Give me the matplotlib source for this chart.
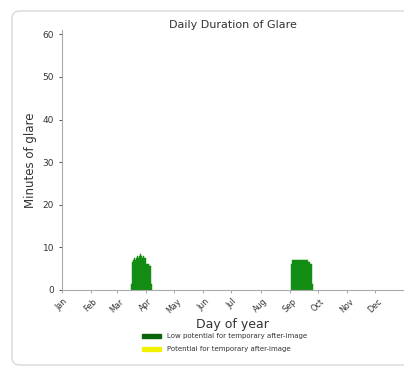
import matplotlib
matplotlib.use("Agg")
import matplotlib.pyplot as plt
from matplotlib.patches import FancyBboxPatch

# ── Data ──────────────────────────────────────────────────────────────────
month_labels = ["Jan", "Feb", "Mar", "Apr", "May", "Jun",
                "Jul", "Aug", "Sep", "Oct", "Nov", "Dec"]
month_starts = [0, 31, 59, 90, 120, 151, 181, 212, 243, 273, 304, 334]

spring_days = list(range(74, 97))
spring_low = [1.5, 6.5, 7, 7, 7.5, 7, 7.5, 8, 7.5, 8, 8.5, 8,
              7.5, 8, 7.5, 7.5, 6, 6, 6, 6, 5.5, 5.5, 1.5]

autumn_days = list(range(245, 268))
autumn_low = [6, 7, 7, 7, 7, 7, 7, 7, 7, 7, 7, 7,
              7, 7, 7, 7, 7, 7, 6.5, 6.5, 6, 6, 1.5]

# yellow series has no glare minutes in this result
autumn_high = [0] * len(autumn_days)

LOW_COLOR = "#138c13"
HIGH_COLOR = "#f2f200"
TEXT = "#333333"

fig = plt.figure(figsize=(4.04, 3.76), dpi=100)

# card outline
card = FancyBboxPatch((12 / 404, 11 / 376), 1.2, 354 / 376,
                      boxstyle="round,pad=0,rounding_size=0.02",
                      transform=fig.transFigure, facecolor="white",
                      edgecolor="#d9d9d9", linewidth=1.0, zorder=-10)
fig.add_artist(card)

ax = fig.add_axes([0.153, 0.229, 0.847, 0.691])
ax.set_facecolor("none")

ax.bar(spring_days, spring_low, width=1.0, color=LOW_COLOR,
       edgecolor=LOW_COLOR, linewidth=0.3)
ax.bar(autumn_days, autumn_low, width=1.0, color=LOW_COLOR,
       edgecolor=LOW_COLOR, linewidth=0.3)
ax.bar(autumn_days, autumn_high, width=1.0, color=HIGH_COLOR)

ax.set_xlim(0, 365)
ax.set_ylim(0, 61)
ax.set_yticks(range(0, 61, 10))
ax.set_xticks(month_starts)
ax.set_xticklabels(month_labels, rotation=45, fontsize=5.8, color=TEXT)
ax.tick_params(axis="y", labelsize=6.5, colors=TEXT, length=2, width=0.6)
ax.tick_params(axis="x", length=2, width=0.6, colors="#999999",
               labelcolor=TEXT, pad=3)

for side in ["top", "right"]:
    ax.spines[side].set_visible(False)
for side in ["left", "bottom"]:
    ax.spines[side].set_color("#aaaaaa")
    ax.spines[side].set_linewidth(0.8)

ax.set_title("Daily Duration of Glare", fontsize=8, color=TEXT, pad=0)
ax.set_ylabel("Minutes of glare", fontsize=8.5, color=TEXT, labelpad=4)
ax.set_xlabel("Day of year", fontsize=9, color=TEXT, labelpad=2)

leg_low = plt.Rectangle((0, 0), 1, 1, color="#0a640a")
leg_high = plt.Rectangle((0, 0), 1, 1, color=HIGH_COLOR)
fig.legend([leg_low, leg_high],
           ["Low potential for temporary after-image",
            "Potential for temporary after-image"],
           loc="upper center", bbox_to_anchor=(0.555, 0.13),
           frameon=False, fontsize=5, handlelength=2.8, handleheight=0.6,
           labelspacing=1.0, labelcolor=TEXT)

fig.savefig("out.png", dpi=100)
